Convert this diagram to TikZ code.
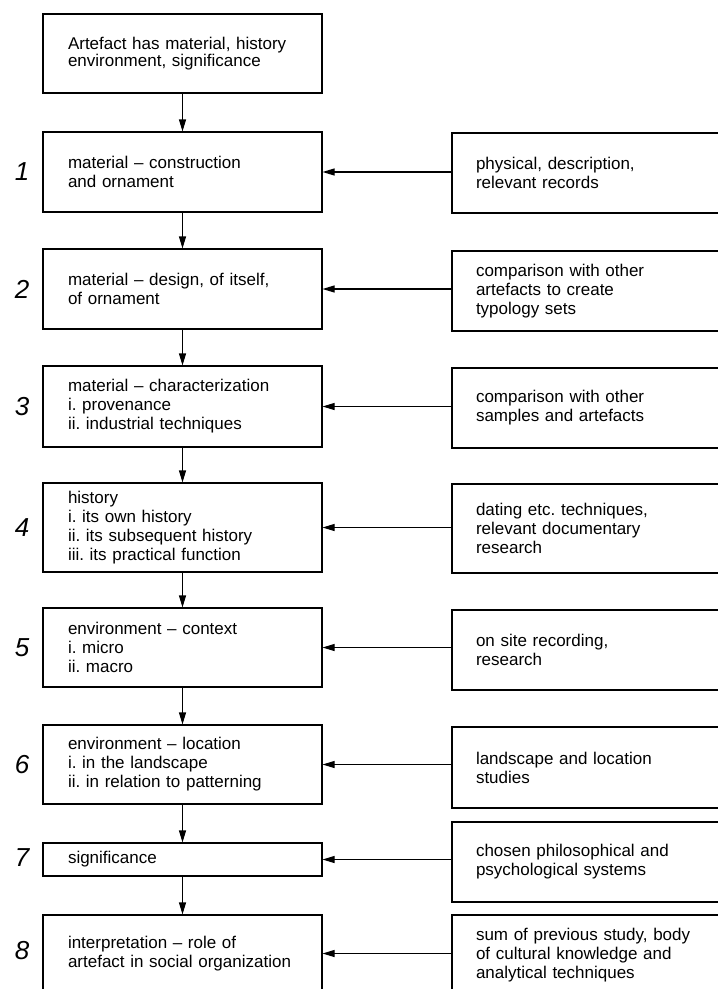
\documentclass[tikz,border=0pt]{standalone}
\usepackage{fontspec}
\setmainfont{Liberation Sans}
\usetikzlibrary{arrows.meta,positioning}
\frenchspacing

\begin{document}
\begin{tikzpicture}[x=1pt,y=-1pt,>={Triangle[length=12pt,width=7pt]},
  stagebox/.style={draw,line width=1.1pt,minimum width=279pt,text width=229pt,inner xsep=25pt,inner ysep=0pt,align=left,font=\fontsize{17}{19}\selectfont},
  srcbox/.style={draw,line width=1.1pt,minimum width=273pt,text width=225pt,inner xsep=24pt,inner ysep=0pt,align=left,font=\fontsize{17}{19}\selectfont},
  stepnum/.style={font=\fontsize{26}{26}\selectfont\itshape,inner sep=0pt},
  feed/.style={->,line width=1.1pt}]
\useasboundingbox (0,0) rectangle (718,989);
\clip (0,0) rectangle (718,989);
% main column
\node[stagebox,minimum height=79pt,font=\fontsize{17}{14}\selectfont] (l0) at (182.5,53.5) {Artefact has material, history\\environment, significance};
\node[stagebox,minimum height=80pt] (l1) at (182.5,172) {material -- construction\\and ornament};
\draw[feed] (l0)--(l1);
\node[stagebox,minimum height=80pt] (l2) at (182.5,289) {material -- design, of itself,\\of ornament};
\draw[feed] (l1)--(l2);
\node[stagebox,minimum height=81pt] (l3) at (182.5,406.5) {material -- characterization\\i. provenance\\ii. industrial techniques};
\draw[feed] (l2)--(l3);
\node[stagebox,minimum height=89pt] (l4) at (182.5,527.5) {history\\i. its own history\\ii. its subsequent history\\iii. its practical function};
\draw[feed] (l3)--(l4);
\node[stagebox,minimum height=79pt] (l5) at (182.5,647.5) {environment -- context\\i. micro\\ii. macro};
\draw[feed] (l4)--(l5);
\node[stagebox,minimum height=79pt] (l6) at (182.5,764.5) {environment -- location\\i. in the landscape\\ii. in relation to patterning};
\draw[feed] (l5)--(l6);
\node[stagebox,minimum height=33pt] (l7) at (182.5,859.5) {significance};
\draw[feed] (l6)--(l7);
\node[stagebox,minimum height=77pt] (l8) at (182.5,953.5) {interpretation -- role of\\artefact in social organization};
\draw[feed] (l7)--(l8);
% step numbers
\node[stepnum] (n1) at (22,172) {1};
\node[stepnum] (n2) at (22,289) {2};
\node[stepnum] (n3) at (22,406.5) {3};
\node[stepnum] (n4) at (22,527.5) {4};
\node[stepnum] (n5) at (22,647.5) {5};
\node[stepnum] (n6) at (22,764.5) {6};
\node[stepnum] (n7) at (22,858) {7};
\node[stepnum] (n8) at (22,951) {8};
% sources
\node[srcbox,minimum height=80pt] (r1) at (588.5,173) {physical, description,\\relevant records};
\draw[feed] (l1.east -| r1.west)--(l1.east);
\node[srcbox,minimum height=80pt] (r2) at (588.5,291) {comparison with other\\artefacts to create\\typology sets};
\draw[feed] (l2.east -| r2.west)--(l2.east);
\node[srcbox,minimum height=80pt] (r3) at (588.5,408) {comparison with other\\samples and artefacts};
\draw[feed] (l3.east -| r3.west)--(l3.east);
\node[srcbox,minimum height=89pt] (r4) at (588.5,528.5) {dating etc. techniques,\\relevant documentary\\research};
\draw[feed] (l4.east -| r4.west)--(l4.east);
\node[srcbox,minimum height=80pt] (r5) at (588.5,650) {on site recording,\\research};
\draw[feed] (l5.east -| r5.west)--(l5.east);
\node[srcbox,minimum height=81pt] (r6) at (588.5,767.5) {landscape and location\\studies};
\draw[feed] (l6.east -| r6.west)--(l6.east);
\node[srcbox,minimum height=80pt] (r7) at (588.5,862) {chosen philosophical and\\psychological systems};
\draw[feed] (l7.east -| r7.west)--(l7.east);
\node[srcbox,minimum height=80pt] (r8) at (588.5,955) {sum of previous study, body\\of cultural knowledge and\\analytical techniques};
\draw[feed] (l8.east -| r8.west)--(l8.east);
\end{tikzpicture}
\end{document}
